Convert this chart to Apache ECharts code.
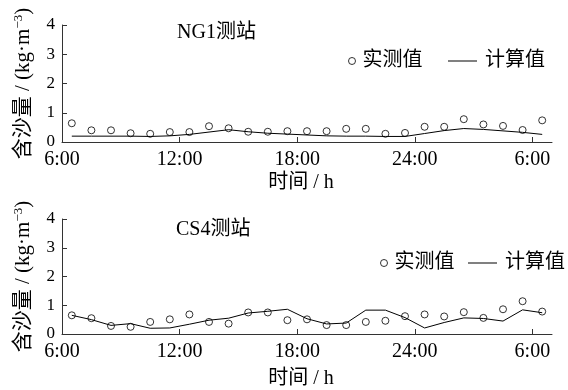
<!DOCTYPE html>
<html>
<head>
<meta charset="utf-8">
<script src="https://cdn.jsdelivr.net/npm/echarts@6/dist/echarts.min.js"></script>
<style>
  html, body { margin: 0; padding: 0; background: #fff; }
  #chart { width: 568px; height: 390px; }
</style>
</head>
<body>
<div id="chart"></div>
<script>
// Sampling times (hours from 0:00 of day one; values past 24 belong to the next morning)
const hours = [6.5, 7.5, 8.5, 9.5, 10.5, 11.5, 12.5, 13.5, 14.5, 15.5, 16.5, 17.5, 18.5,
               19.5, 20.5, 21.5, 22.5, 23.5, 24.5, 25.5, 26.5, 27.5, 28.5, 29.5, 30.5];

// NG1 station: measured and computed sediment concentration (kg/m³)
const ng1Measured = [0.64, 0.40, 0.40, 0.30, 0.28, 0.34, 0.34, 0.54, 0.47, 0.35, 0.35, 0.37, 0.37,
                     0.37, 0.45, 0.45, 0.28, 0.31, 0.52, 0.52, 0.78, 0.60, 0.55, 0.41, 0.74];
const ng1Computed = [0.20, 0.20, 0.20, 0.20, 0.19, 0.21, 0.26, 0.34, 0.42, 0.35, 0.30, 0.27, 0.24,
                     0.21, 0.20, 0.20, 0.19, 0.19, 0.29, 0.39, 0.46, 0.43, 0.38, 0.33, 0.26];

// CS4 station: measured and computed sediment concentration (kg/m³)
const cs4Measured = [0.65, 0.55, 0.28, 0.25, 0.42, 0.51, 0.68, 0.42, 0.36, 0.75, 0.75, 0.48, 0.51,
                     0.31, 0.31, 0.42, 0.46, 0.62, 0.68, 0.61, 0.76, 0.56, 0.86, 1.14, 0.78];
const cs4Computed = [0.65, 0.50, 0.30, 0.36, 0.20, 0.21, 0.34, 0.48, 0.55, 0.73, 0.79, 0.86, 0.53,
                     0.35, 0.38, 0.83, 0.83, 0.57, 0.21, 0.40, 0.56, 0.54, 0.45, 0.84, 0.74];

// Time axis ticks and their clock labels
const timeTicks = [6, 12, 18, 24, 30];
const timeTickLabels = ['6:00', '12:00', '18:00', '24:00', '6:00'];

const stationNames = ['NG1测站', 'CS4测站'];
const seriesNames = ['实测值', '计算值'];

const FONT = "'Liberation Serif', 'Noto Sans CJK SC', serif";

function pairs(xs, ys) { return xs.map((x, i) => [x, ys[i]]); }

function xAxisFor(gridIndex, nameGap) {
  return {
    type: 'value', gridIndex: gridIndex,
    min: 6, max: 31, interval: 6,
    name: '时间 / h', nameLocation: 'middle', nameGap: nameGap,
    nameTextStyle: { fontFamily: FONT, fontSize: 20, color: '#000', padding: [0, 12, 0, 0] },
    axisLine: { lineStyle: { color: '#333', width: 1 } },
    axisTick: { inside: true, length: 5, customValues: timeTicks.slice(1), lineStyle: { color: '#333' } },
    axisLabel: {
      customValues: timeTicks, margin: 8,
      fontFamily: FONT, fontSize: 20, color: '#000',
      formatter: v => timeTickLabels[timeTicks.indexOf(v)]
    },
    splitLine: { show: false }
  };
}

function yAxisFor(gridIndex) {
  return {
    type: 'value', gridIndex: gridIndex,
    min: 0, max: 4, interval: 1,
    name: '含沙量 / (kg·m{sup|−3})', nameLocation: 'middle', nameRotate: 90, nameGap: 27,
    nameTextStyle: {
      fontFamily: FONT, fontSize: 21, color: '#000', lineHeight: 23,
      rich: { sup: { fontFamily: FONT, fontSize: 13, color: '#000', verticalAlign: 'top', lineHeight: 13 } }
    },
    axisLine: { show: true, lineStyle: { color: '#333', width: 1 } },
    axisTick: { show: true, inside: true, length: 5, lineStyle: { color: '#333' } },
    axisLabel: { margin: 7, fontFamily: FONT, fontSize: 17, color: '#000' },
    splitLine: { show: false }
  };
}

function measuredSeries(idx, data) {
  return {
    name: seriesNames[0], type: 'scatter', xAxisIndex: idx, yAxisIndex: idx,
    data: pairs(hours, data), symbol: 'circle', symbolSize: 7, z: 3,
    itemStyle: { color: 'rgba(0,0,0,0)', borderColor: '#000', borderWidth: 1 }
  };
}

function computedSeries(idx, data) {
  return {
    name: seriesNames[1], type: 'line', xAxisIndex: idx, yAxisIndex: idx,
    data: pairs(hours, data), symbol: 'none', z: 2,
    itemStyle: { color: '#000' },
    lineStyle: { color: '#000', width: 1 }
  };
}

function legendPair(markLeft, lineLeft, centerY) {
  const text = { fontFamily: FONT, fontSize: 20, color: '#000' };
  return [
    {
      data: [seriesNames[0]], left: markLeft, top: centerY - 9, padding: 0, selectedMode: false,
      icon: 'circle', itemWidth: 7, itemHeight: 7,
      itemStyle: { color: 'rgba(0,0,0,0)', borderColor: '#000', borderWidth: 1 },
      textStyle: Object.assign({ padding: [0, 0, 0, 2] }, text)
    },
    {
      data: [seriesNames[1]], left: lineLeft, top: centerY - 9, padding: 0, selectedMode: false,
      icon: 'rect', itemWidth: 29, itemHeight: 1,
      itemStyle: { color: '#000', borderWidth: 0 },
      textStyle: Object.assign({ padding: [0, 0, 0, 3] }, text)
    }
  ];
}

const chart = echarts.init(document.getElementById('chart'), null, { renderer: 'canvas' });

const titleText = { fontFamily: FONT, fontSize: 20, fontWeight: 'normal', color: '#000' };

chart.setOption({
  animation: false,
  backgroundColor: '#fff',
  title: [
    { text: stationNames[0], left: 177, top: 23, padding: 0, textStyle: titleText },
    { text: stationNames[1], left: 176, top: 220, padding: 0, textStyle: titleText }
  ],
  legend: legendPair(348, 448, 60).concat(legendPair(380, 468, 262)),
  grid: [
    { left: 62, top: 25, width: 490, height: 117 },
    { left: 62, top: 219, width: 490, height: 119 }
  ],
  xAxis: [xAxisFor(0, 31), xAxisFor(1, 35)],
  yAxis: [yAxisFor(0), yAxisFor(1)],
  series: [
    computedSeries(0, ng1Computed),
    measuredSeries(0, ng1Measured),
    computedSeries(1, cs4Computed),
    measuredSeries(1, cs4Measured)
  ]
});
</script>
</body>
</html>
